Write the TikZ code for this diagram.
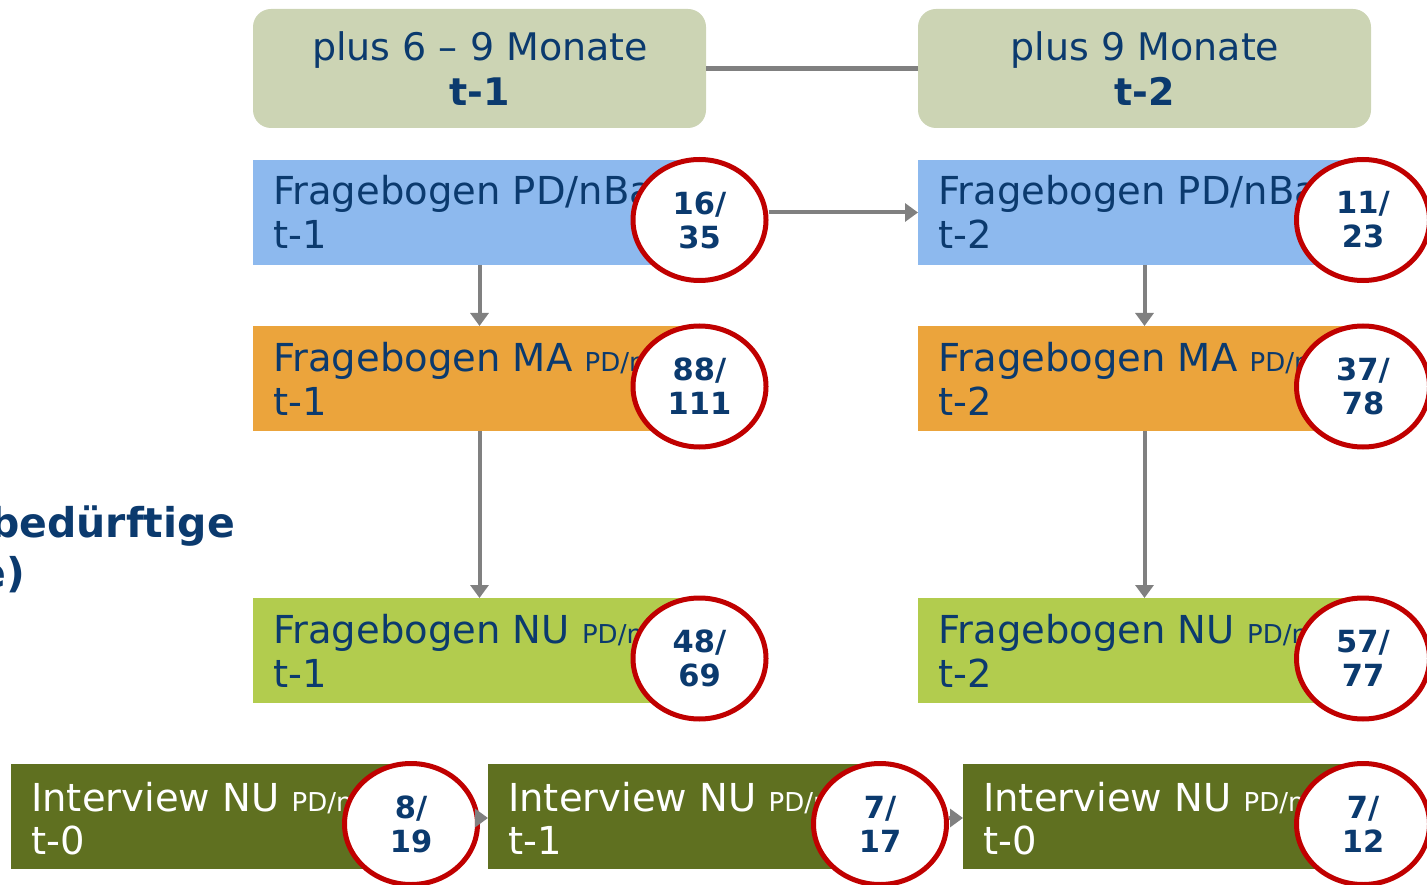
\documentclass[tikz,border=0pt]{standalone}
\usepackage{fontspec}
\setmainfont{DejaVu Sans}
\usetikzlibrary{shapes.geometric,arrows.meta,calc}
\definecolor{navy}{HTML}{0B3A6E}
\definecolor{sage}{HTML}{CCD4B4}
\definecolor{lblue}{HTML}{8DB9EE}
\definecolor{orng}{HTML}{EBA43C}
\definecolor{lgreen}{HTML}{B2CC4E}
\definecolor{olive}{HTML}{5F7020}
\definecolor{cred}{HTML}{C00000}
\definecolor{gline}{HTML}{808080}
\begin{document}
\begin{tikzpicture}[x=1pt,y=-1pt,
  topbox/.style={rectangle, rounded corners=18pt, fill=sage, inner sep=0pt, outer sep=0pt, anchor=north west, minimum width=453pt, minimum height=119pt},
  box/.style={rectangle, inner sep=0pt, outer sep=0pt, anchor=north west, minimum width=453pt, minimum height=105pt},
  ibox/.style={rectangle, inner sep=0pt, outer sep=0pt, anchor=north west, fill=olive, minimum width=410pt, minimum height=105pt},
  txt/.style={anchor=base west, inner sep=0pt, font=\fontsize{38.5}{46}\selectfont, text=navy},
  wtxt/.style={txt, text=white},
  ctxt/.style={anchor=base, inner sep=0pt, font=\fontsize{38}{44}\selectfont, text=navy},
  num/.style={ellipse, draw=cred, line width=5pt, fill=white, minimum width=133pt, minimum height=121pt, inner sep=0pt, align=center, font=\fontsize{30.5}{34}\selectfont\bfseries, text=navy},
  arr/.style={draw=gline, line width=4pt, -{Triangle[width=18pt,length=13pt]}},
  con/.style={draw=gline, line width=5pt},
  head/.style={anchor=base east, inner sep=0pt, font=\fontsize{41}{50}\selectfont\bfseries, text=navy}
]
\clip (0,0) rectangle (1427,885);
\newcommand{\smallpd}{\fontsize{26}{30}\selectfont PD/n}

% left heading (cut off)
\node[head] (h1) at (235,537) {bedürftige};
\node[head] (h2) at (25,587) {e)};

% top boxes
\node[topbox] (T1) at (253,9) {};
\node[topbox] (T2) at (918,9) {};
\node[ctxt] (T1a) at (480,61) {plus 6 – 9 Monate};
\node[ctxt, font=\fontsize{38}{44}\selectfont\bfseries] (T1b) at (480,106) {t-1};
\node[ctxt] (T2a) at (1145,61) {plus 9 Monate};
\node[ctxt, font=\fontsize{38}{44}\selectfont\bfseries] (T2b) at (1145,106) {t-2};
\draw[con] (T1.east) -- (T2.east -| T2.west);

% row boxes left column
\node[box, fill=lblue] (B1) at (253,160) {};
\node[box, fill=orng] (O1) at (253,326) {};
\node[box, fill=lgreen] (G1) at (253,598) {};
% right column
\node[box, fill=lblue] (B2) at (918,160) {};
\node[box, fill=orng] (O2) at (918,326) {};
\node[box, fill=lgreen] (G2) at (918,598) {};
% bottom row
\node[ibox] (I1) at (11,764) {};
\node[ibox] (I2) at (488,764) {};
\node[ibox] (I3) at (963,764) {};

% texts
\node[txt] (B1a) at (273,205) {Fragebogen PD/nBa};
\node[txt] (B1b) at (273,249) {t-1};
\node[txt] (B2a) at (938,205) {Fragebogen PD/nBa};
\node[txt] (B2b) at (938,249) {t-2};
\node[txt] (O1a) at (273,371) {Fragebogen MA {\smallpd}};
\node[txt] (O1b) at (273,415) {t-1};
\node[txt] (O2a) at (938,371) {Fragebogen MA {\smallpd}};
\node[txt] (O2b) at (938,415) {t-2};
\node[txt] (G1a) at (273,643) {Fragebogen NU {\smallpd}};
\node[txt] (G1b) at (273,687) {t-1};
\node[txt] (G2a) at (938,643) {Fragebogen NU {\smallpd}};
\node[txt] (G2b) at (938,687) {t-2};
\node[wtxt] (I1a) at (31,811) {Interview NU {\smallpd}};
\node[wtxt] (I1b) at (31,854) {t-0};
\node[wtxt] (I2a) at (508,811) {Interview NU {\smallpd}};
\node[wtxt] (I2b) at (508,854) {t-1};
\node[wtxt] (I3a) at (983,811) {Interview NU {\smallpd}};
\node[wtxt] (I3b) at (983,854) {t-0};

% arrows
\draw[arr] (B1.south) -- (O1.north);
\draw[arr] (O1.south) -- (G1.north);
\draw[arr] (B2.south) -- (O2.north);
\draw[arr] (O2.south) -- (G2.north);

% circles
\node[num] (C1) at (699.5,220) {16/\\35};
\node[num] (C2) at (1363,220) {11/\\23};
\node[num] (C3) at (699.5,386.5) {88/\\111};
\node[num] (C4) at (1363,386.5) {37/\\78};
\node[num] (C5) at (699.5,658.5) {48/\\69};
\node[num] (C6) at (1363,658.5) {57/\\77};
\node[num] (C7) at (411,824) {8/\\19};
\node[num] (C8) at (880,824) {7/\\17};
\node[num] (C9) at (1363,824) {7/\\12};

\draw[arr] (C1.east |- B2.west) -- (B2.west);
\draw[arr, shorten <=-2pt] (C7.east |- 0,818) -- (I2.west |- 0,818);
\draw[arr] (C8.east |- 0,818) -- (I3.west |- 0,818);
\end{tikzpicture}
\end{document}
